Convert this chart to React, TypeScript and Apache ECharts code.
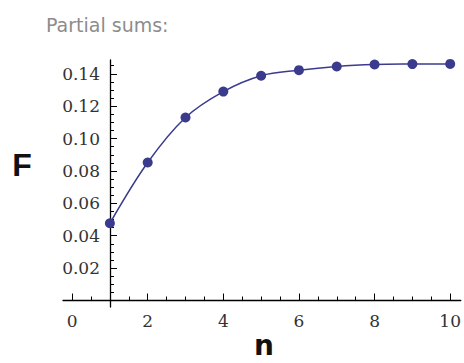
import React, { useEffect, useRef } from "react";
import * as echarts from "echarts";

const titleText = "Partial sums:";
const xName = "n";
const yName = "F";
const nValues = [1, 2, 3, 4, 5, 6, 7, 8, 9, 10];
const partialSums = [0.0477, 0.0852, 0.113, 0.129, 0.1388, 0.1422, 0.1445, 0.1457, 0.146, 0.1461];
const xMajorTicks = [0, 2, 4, 6, 8, 10];
const xMinorTicks = [0.5, 1, 1.5, 2.5, 3, 3.5, 4.5, 5, 5.5, 6.5, 7, 7.5, 8.5, 9, 9.5];
const yMajorTicks = [0.02, 0.04, 0.06, 0.08, 0.1, 0.12, 0.14];
const yMinorTicks = [
  0.005, 0.01, 0.015, 0.025, 0.03, 0.035, 0.045, 0.05, 0.055, 0.065, 0.07, 0.075,
  0.085, 0.09, 0.095, 0.105, 0.11, 0.115, 0.125, 0.13, 0.135, 0.145,
];

const X_MIN = -0.24;
const X_MAX = 10.28;
const Y_MIN = -0.004;
const Y_MAX = 0.1485;

export default function App() {
  const ref = useRef<HTMLDivElement>(null);
  useEffect(() => {
    if (!ref.current) return;
    const chart = echarts.init(ref.current, null, { renderer: "svg" });
    const serif = "DejaVu Serif";
    const lineColor = "#000";
    const markColor = "#3b3b8e";
    const common = {
      type: "value" as const,
      splitLine: { show: false },
    };
    chart.setOption({
      animation: false,
      backgroundColor: "#fff",
      title: {
        text: titleText,
        left: 41,
        top: 10,
        textStyle: {
          fontFamily: "DejaVu Sans",
          fontSize: 19,
          fontWeight: "normal",
          color: "#8c8c8c",
        },
      },
      grid: { left: 63, right: 1, top: 60, bottom: 56 },
      xAxis: [
        {
          ...common,
          min: X_MIN,
          max: X_MAX,
          position: "bottom",
          axisLine: { show: true, onZero: true, onZeroAxisIndex: 0, lineStyle: { color: lineColor, width: 1.3 } },
          axisTick: { show: true, inside: true, length: 7, customValues: xMajorTicks, lineStyle: { color: lineColor, width: 1 } },
          axisLabel: {
            show: true,
            customValues: xMajorTicks,
            margin: 5,
            fontFamily: serif,
            fontSize: 17,
            color: "#333",
            formatter: (v: number) => String(v),
          },
        },
        {
          ...common,
          min: X_MIN,
          max: X_MAX,
          position: "bottom",
          axisLine: { show: false, onZero: true, onZeroAxisIndex: 0 },
          axisTick: { show: true, inside: true, length: 4, customValues: xMinorTicks, lineStyle: { color: lineColor, width: 1 } },
          axisLabel: { show: false },
        },
      ],
      yAxis: [
        {
          ...common,
          min: Y_MIN,
          max: Y_MAX,
          position: "left",
          offset: -47,
          axisLine: { show: true, onZero: false, lineStyle: { color: lineColor, width: 1.3 } },
          axisTick: { show: true, inside: true, length: 7, customValues: yMajorTicks, lineStyle: { color: lineColor, width: 1 } },
          axisLabel: {
            show: true,
            customValues: yMajorTicks,
            margin: 10,
            fontFamily: serif,
            fontSize: 17,
            color: "#333",
            formatter: (v: number) => v.toFixed(2),
          },
        },
        {
          ...common,
          min: Y_MIN,
          max: Y_MAX,
          position: "left",
          offset: -47,
          axisLine: { show: false, onZero: false },
          axisTick: { show: true, inside: true, length: 4, customValues: yMinorTicks, lineStyle: { color: lineColor, width: 1 } },
          axisLabel: { show: false },
        },
      ],
      graphic: [
        {
          type: "text",
          x: 22,
          y: 165,
          style: {
            text: yName,
            align: "center",
            verticalAlign: "middle",
            fontFamily: "Liberation Sans",
            fontWeight: "bold",
            fontSize: 32,
            fill: "#111",
          },
        },
        {
          type: "text",
          x: 264,
          y: 345,
          style: {
            text: xName,
            align: "center",
            verticalAlign: "middle",
            fontFamily: "DejaVu Sans",
            fontWeight: "bold",
            fontSize: 28,
            fill: "#111",
          },
        },
      ],
      series: [
        {
          type: "line",
          xAxisIndex: 0,
          yAxisIndex: 0,
          data: nValues.map((n, i) => [n, partialSums[i]]),
          smooth: 0.35,
          symbol: "circle",
          symbolSize: 10,
          lineStyle: { color: markColor, width: 1.5 },
          itemStyle: { color: markColor },
        },
      ],
    });
    return () => chart.dispose();
  }, []);
  return (
    <div
      ref={ref}
      style={{ position: "absolute", left: 0, top: 0, width: 464, height: 363 }}
    />
  );
}
